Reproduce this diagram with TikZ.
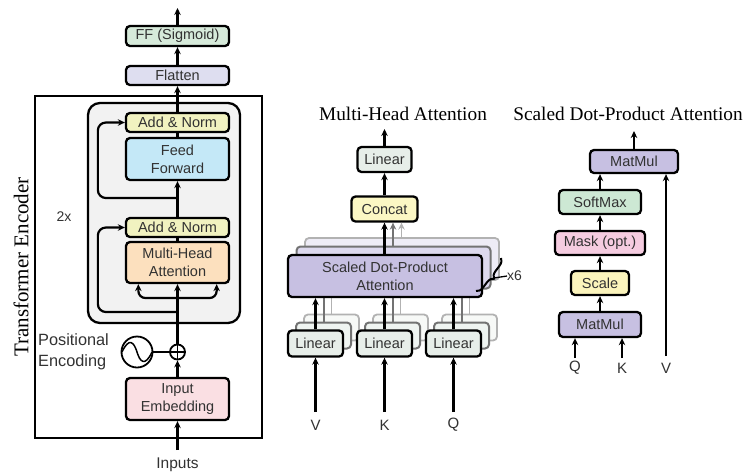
\documentclass[tikz,border=0pt]{standalone}
\usepackage{fontspec}
\setmainfont{Liberation Serif}
\setsansfont{Liberation Sans}
\usetikzlibrary{arrows.meta,calc,decorations.pathreplacing}
\definecolor{cff}{RGB}{214,234,218}
\definecolor{cflat}{RGB}{222,222,240}
\definecolor{cadd}{RGB}{241,242,192}
\definecolor{cfeed}{RGB}{196,232,247}
\definecolor{cmha}{RGB}{252,224,190}
\definecolor{cemb}{RGB}{250,223,227}
\definecolor{cgray}{RGB}{242,242,242}
\definecolor{clin}{RGB}{231,238,233}
\definecolor{ccat}{RGB}{251,247,196}
\definecolor{cpur}{RGB}{199,192,226}
\definecolor{csoft}{RGB}{205,232,212}
\definecolor{cmask}{RGB}{245,204,224}
\definecolor{cscale}{RGB}{251,244,188}
\definecolor{ctxt}{RGB}{50,50,50}
\tikzset{
  box/.style={draw=black, line width=2.3pt, rounded corners=4pt, inner sep=0pt,
    align=center, text=ctxt, font=\sffamily\fontsize{14.5}{18}\selectfont},
  ghostA/.style={draw=black!55, line width=2pt, rounded corners=4pt, inner sep=0pt},
  ghostB/.style={draw=black!30, line width=1.8pt, rounded corners=4pt, inner sep=0pt},
  arr/.style={-{Stealth[length=7pt,width=6.5pt]}, line width=2.2pt},
  garrA/.style={-{Stealth[length=7pt,width=6.5pt]}, line width=2pt, draw=black!55},
  garrB/.style={-{Stealth[length=7pt,width=6.5pt]}, line width=1.8pt, draw=black!30},
  lbl/.style={text=ctxt, font=\sffamily\fontsize{15}{18}\selectfont, inner sep=0pt},
  ttl/.style={text=black, font=\rmfamily\fontsize{19.3}{22}\selectfont, inner sep=0pt},
}
\begin{document}
\begin{tikzpicture}[x=1pt,y=-1pt]
\useasboundingbox (0,0) rectangle (749,475);

% ---------------- left: transformer encoder ----------------
\node[draw=black, line width=1.8pt, minimum width=227pt, minimum height=342pt, inner sep=0pt] (enc) at (148.5,267) {};
\node[draw=black, fill=cgray, line width=2.3pt, rounded corners=12pt, minimum width=152pt, minimum height=220pt, inner sep=0pt] (blk) at (164,213) {};
\node[rotate=90, ttl, font=\rmfamily\fontsize{21}{24}\selectfont] (enclbl) at (21,267) {Transformer Encoder};

\node[box, fill=cff, minimum width=103pt, minimum height=20pt] (ff) at (177.5,36) {FF (Sigmoid)};
\node[box, fill=cflat, minimum width=103pt, minimum height=19pt] (flat) at (177.5,75.5) {Flatten};
\node[box, fill=cadd, minimum width=103pt, minimum height=19pt] (an2) at (177.5,122.5) {Add \& Norm};
\node[box, fill=cfeed, minimum width=103pt, minimum height=42pt] (ffw) at (177.5,159) {Feed\\Forward};
\node[box, fill=cadd, minimum width=103pt, minimum height=19pt] (an1) at (177.5,227.5) {Add \& Norm};
\node[box, fill=cmha, minimum width=103pt, minimum height=41pt] (mha) at (177.5,262.5) {Multi-Head\\Attention};
\node[box, fill=cemb, minimum width=103pt, minimum height=42pt] (emb) at (177.5,399) {Input\\Embedding};
\node[draw=black, line width=1.8pt, circle, minimum size=15pt, inner sep=0pt] (plus) at (177.5,352) {};
\draw[line width=1.5pt] (plus.north) -- (plus.south) (plus.west) -- (plus.east);
\node[draw=black, line width=1.8pt, circle, minimum size=31pt, inner sep=0pt] (sine) at (137,352) {};
\draw[line width=1.5pt] ($(sine.center)+(-15,0)$) .. controls ($(sine.center)+(-8,-15)$) and ($(sine.center)+(-3,-10)$) .. (sine.center)
  .. controls ($(sine.center)+(3,10)$) and ($(sine.center)+(8,15)$) .. ($(sine.center)+(15,0)$);
\node[lbl, font=\sffamily\fontsize{16.3}{21}\selectfont, align=left, anchor=west] (pe) at (38,352) {Positional\\Encoding};
\node[lbl, font=\sffamily\fontsize{14}{16}\selectfont] (two) at (64,217) {2x};
\node[lbl, font=\sffamily\fontsize{15.5}{18}\selectfont] (inlbl) at (177.5,465) {Inputs};

\coordinate (inp) at (177.5,450);
\coordinate (outL) at (177.5,8);
\coordinate (br) at (177.5,298);
\coordinate (r1) at (177.5,312);
\coordinate (r2) at (177.5,198);

\draw[arr] (inp) -- (emb.south);
\draw[arr] (emb.north) -- (plus.south);
\draw[line width=2pt] (sine.east) -- (plus.west);
\draw[arr] (plus.north) -- (mha.south);
\draw[arr, rounded corners=7pt] (br) -| ($(mha.south west)+(13.5,0)$);
\draw[arr, rounded corners=7pt] (br) -| ($(mha.south east)+(-13.5,0)$);
\draw[arr, rounded corners=8pt] (r1) -| ($(an1.west)+(-27,0)$) -- (an1.west);
\draw[line width=2.2pt] (mha.north) -- (an1.south);
\draw[arr] (an1.north) -- (ffw.south);
\draw[arr, rounded corners=8pt] (r2) -| ($(an2.west)+(-27,0)$) -- (an2.west);
\draw[line width=2.2pt] (ffw.north) -- (an2.south);
\draw[arr] (an2.north) -- (flat.south);
\draw[arr] (flat.north) -- (ff.south);
\draw[arr] (ff.north) -- (outL);

% ---------------- middle: multi-head attention ----------------
\node[ttl] (t1) at (403,114) {Multi-Head Attention};

% back copies of linear stacks and SDPA
\foreach \nm/\x in {v/315.5,k/384.5,q/453.5}{
  \node[ghostB, fill=clin!35, minimum width=55pt, minimum height=26pt] (lin\nm B) at (\x+16,327.5) {};
  \node[ghostA, fill=clin!65, minimum width=55pt, minimum height=26pt] (lin\nm A) at (\x+8,335.5) {};
}
\node[ghostB, fill=cpur!30, minimum width=194pt, minimum height=42pt] (sdB) at (402,259) {};
\node[ghostA, fill=cpur!60, minimum width=194pt, minimum height=42pt] (sdA) at (393.5,267.5) {};
\foreach \nm in {v,k,q}{
  \draw[garrB] (lin\nm B.north) -- (lin\nm B.north |- sdB.south);
  \draw[garrA] (lin\nm A.north) -- (lin\nm A.north |- sdA.south);
}
\node[box, fill=cpur, minimum width=194pt, minimum height=42pt] (sd) at (385,276) {Scaled Dot-Product\\Attention};
\foreach \nm/\x/\l in {v/315.5/V,k/384.5/K,q/453.5/Q}{
  \node[box, fill=clin, minimum width=55pt, minimum height=26pt] (lin\nm) at (\x,343.5) {Linear};
  \node[lbl] (in\nm) at (\x,425) {\l};
  \coordinate (src\nm) at (\x,412);
  \draw[arr] (src\nm) -- (lin\nm.south);
  \draw[arr] (lin\nm.north) -- (lin\nm.north |- sd.south);
}
\node[box, fill=ccat, minimum width=66pt, minimum height=25pt] (cat) at (384.5,209) {Concat};
\node[box, fill=clin, minimum width=54pt, minimum height=25pt] (mlin) at (384.5,159.5) {Linear};
\coordinate (outM) at (384.5,129);
\draw[garrB] (sdB.north -| 401.5,0) -- (cat.south -| 401.5,0);
\draw[garrA] (sdA.north -| 393,0) -- (cat.south -| 393,0);
\draw[arr] (sd.north -| cat.south) -- (cat.south);
\draw[arr] (cat.north) -- (mlin.south);
\draw[arr] (mlin.north) -- (outM);

\draw[line width=2pt, decorate, decoration={brace, amplitude=7pt}] (501,258) -- (476,291);
\coordinate (bt) at (494,278);
\node[lbl, font=\sffamily\fontsize{14}{16}\selectfont, anchor=west] (x6) at (507,276) {x6};
\draw[line width=1.3pt] (bt) -- (x6.west);

% ---------------- right: scaled dot-product attention ----------------
\node[ttl] (t2) at (628,114) {Scaled Dot-Product Attention};
\node[box, fill=cpur, minimum width=88pt, minimum height=23pt] (mm2) at (634,161.5) {MatMul};
\node[box, fill=csoft, minimum width=82pt, minimum height=24pt] (smax) at (600,202) {SoftMax};
\node[box, fill=cmask, minimum width=90pt, minimum height=24pt] (mask) at (600,243) {Mask (opt.)};
\node[box, fill=cscale, minimum width=58pt, minimum height=24pt] (scale) at (600,283) {Scale};
\node[box, fill=cpur, minimum width=82pt, minimum height=25pt] (mm1) at (600,324.5) {MatMul};
\node[lbl] (qr) at (575,368) {Q};
\node[lbl] (kr) at (622,368) {K};
\node[lbl] (vr) at (666,368) {V};
\coordinate (qs) at (575,358);
\coordinate (ks) at (622,358);
\coordinate (vs) at (666,356);
\coordinate (outR) at (634,131);
\draw[arr] (qs) -- (qs |- mm1.south);
\draw[arr] (ks) -- (ks |- mm1.south);
\draw[arr] (vs) -- (vs |- mm2.south);
\draw[arr] (mm1.north) -- (scale.south);
\draw[arr] (scale.north) -- (mask.south);
\draw[arr] (mask.north) -- (smax.south);
\draw[arr] (smax.north) -- (smax.north |- mm2.south);
\draw[arr] (mm2.north) -- (outR);
\end{tikzpicture}
\end{document}
